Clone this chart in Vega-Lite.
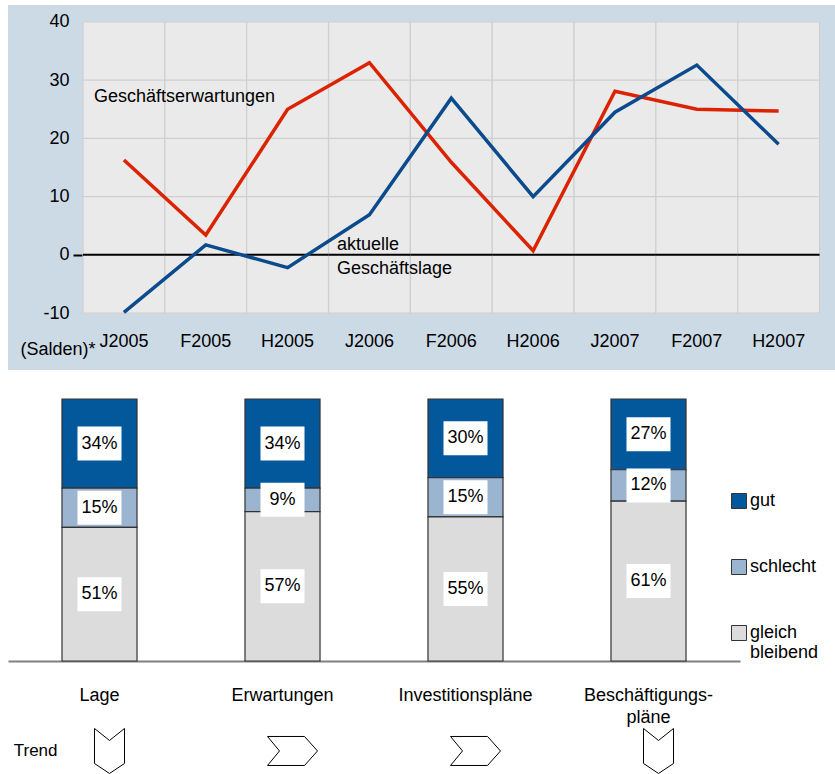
{
  "$schema": "https://vega.github.io/schema/vega-lite/v6.json",
  "padding": {"left": 8, "top": 5, "right": 0, "bottom": 0},
  "background": "white",
  "config": {
    "font": "Liberation Sans",
    "view": {"stroke": null},
    "axis": {"labelColor": "#000000", "labelFontSize": 18, "titleColor": "#000000"},
    "legend": {"labelColor": "#000000"}
  },
  "datasets": {
    "lines": [
      {"period": "J2005", "series": "Geschäftserwartungen", "value": 16.3},
      {"period": "F2005", "series": "Geschäftserwartungen", "value": 3.4},
      {"period": "H2005", "series": "Geschäftserwartungen", "value": 25.0},
      {"period": "J2006", "series": "Geschäftserwartungen", "value": 33.0},
      {"period": "F2006", "series": "Geschäftserwartungen", "value": 15.9},
      {"period": "H2006", "series": "Geschäftserwartungen", "value": 0.7},
      {"period": "J2007", "series": "Geschäftserwartungen", "value": 28.1},
      {"period": "F2007", "series": "Geschäftserwartungen", "value": 25.0},
      {"period": "H2007", "series": "Geschäftserwartungen", "value": 24.7},
      {"period": "J2005", "series": "aktuelle Geschäftslage", "value": -9.9},
      {"period": "F2005", "series": "aktuelle Geschäftslage", "value": 1.7},
      {"period": "H2005", "series": "aktuelle Geschäftslage", "value": -2.2},
      {"period": "J2006", "series": "aktuelle Geschäftslage", "value": 6.9},
      {"period": "F2006", "series": "aktuelle Geschäftslage", "value": 26.9},
      {"period": "H2006", "series": "aktuelle Geschäftslage", "value": 10.0},
      {"period": "J2007", "series": "aktuelle Geschäftslage", "value": 24.5},
      {"period": "F2007", "series": "aktuelle Geschäftslage", "value": 32.6},
      {"period": "H2007", "series": "aktuelle Geschäftslage", "value": 19.0}
    ],
    "bars": [
      {"cat": "Lage", "k": "gut", "pct": 34},
      {"cat": "Lage", "k": "schlecht", "pct": 15},
      {"cat": "Lage", "k": "gleich bleibend", "pct": 51},
      {"cat": "Erwartungen", "k": "gut", "pct": 34},
      {"cat": "Erwartungen", "k": "schlecht", "pct": 9},
      {"cat": "Erwartungen", "k": "gleich bleibend", "pct": 57},
      {"cat": "Investitionspläne", "k": "gut", "pct": 30},
      {"cat": "Investitionspläne", "k": "schlecht", "pct": 15},
      {"cat": "Investitionspläne", "k": "gleich bleibend", "pct": 55},
      {"cat": "Beschäftigungspläne", "k": "gut", "pct": 27},
      {"cat": "Beschäftigungspläne", "k": "schlecht", "pct": 12},
      {"cat": "Beschäftigungspläne", "k": "gleich bleibend", "pct": 61}
    ],
    "trend": [
      {"cat": "Lage", "trend": "fallend"},
      {"cat": "Erwartungen", "trend": "gleichbleibend"},
      {"cat": "Investitionspläne", "trend": "gleichbleibend"},
      {"cat": "Beschäftigungspläne", "trend": "fallend"}
    ]
  },
  "bounds": "flush",
  "spacing": 29,
  "resolve": {"scale": {"color": "independent"}, "legend": {"color": "independent"}},
  "vconcat": [
    {
      "width": 827,
      "height": 365,
      "view": {"fill": "#CCDAE6", "stroke": null},
      "data": {"name": "lines"},
      "encoding": {
        "x": {
          "field": "period",
          "type": "nominal",
          "sort": ["J2005", "F2005", "H2005", "J2006", "F2006", "H2006", "J2007", "F2007", "H2007"],
          "scale": {"type": "band", "paddingInner": 0, "paddingOuter": 0.5526, "align": 0.8293},
          "axis": {
            "orient": "bottom", "offset": -29, "domain": false, "ticks": false, "grid": false,
            "labelPadding": 0, "labelBaseline": "middle", "labelAngle": 0, "labelFontSize": 18,
            "title": "(Salden)*", "titleX": 12, "titleY": 8, "titleAlign": "left",
            "titleBaseline": "middle", "titleFontWeight": "normal", "titleFontSize": 18
          }
        }
      },
      "layer": [
        {
          "transform": [{"filter": "datum.series === 'aktuelle Geschäftslage'"}],
          "mark": {"type": "bar", "fill": "#EAEAEA", "stroke": "#CFCFCF", "strokeWidth": 1.2},
          "encoding": {
            "y": {
              "datum": 40, "type": "quantitative",
              "scale": {"domain": [-19.79, 42.92], "nice": false, "zero": false},
              "axis": {
                "orient": "left", "offset": -75, "values": [-10, 0, 10, 20, 30, 40],
                "grid": false, "domain": false, "ticks": true, "tickSize": 10, "tickWidth": 2,
                "tickColor": {"condition": {"test": "datum.value === 0", "value": "#000000"}, "value": "transparent"},
                "labelPadding": 4, "labelFontSize": 18, "labelExpr": "'' + datum.value", "title": null
              }
            },
            "y2": {"datum": -10}
          }
        },
        {
          "transform": [{"filter": "datum.series === 'aktuelle Geschäftslage'"}],
          "mark": {"type": "tick", "color": "#CFCFCF", "size": 81.84, "thickness": 1.2, "orient": "horizontal", "opacity": 1},
          "encoding": {"y": {"datum": 10, "type": "quantitative", "title": null}}
        },
        {
          "transform": [{"filter": "datum.series === 'aktuelle Geschäftslage'"}],
          "mark": {"type": "tick", "color": "#CFCFCF", "size": 81.84, "thickness": 1.2, "orient": "horizontal", "opacity": 1},
          "encoding": {"y": {"datum": 20, "type": "quantitative", "title": null}}
        },
        {
          "transform": [{"filter": "datum.series === 'aktuelle Geschäftslage'"}],
          "mark": {"type": "tick", "color": "#CFCFCF", "size": 81.84, "thickness": 1.2, "orient": "horizontal", "opacity": 1},
          "encoding": {"y": {"datum": 30, "type": "quantitative", "title": null}}
        },
        {
          "transform": [{"filter": "datum.series === 'aktuelle Geschäftslage'"}],
          "mark": {"type": "tick", "color": "#000000", "size": 81.84, "thickness": 2, "orient": "horizontal", "opacity": 1},
          "encoding": {"y": {"datum": 0, "type": "quantitative", "title": null}}
        },
        {
          "mark": {"type": "line", "strokeWidth": 3.5},
          "encoding": {
            "y": {"field": "value", "type": "quantitative", "title": null},
            "color": {
              "field": "series", "type": "nominal",
              "scale": {"domain": ["aktuelle Geschäftslage", "Geschäftserwartungen"], "range": ["#0B4A8C", "#DC2300"]},
              "legend": null
            }
          }
        },
        {
          "data": {"values": [{"t": "Geschäftserwartungen"}]},
          "mark": {"type": "text", "align": "left", "baseline": "alphabetic", "fontSize": 18, "color": "#000000", "xOffset": -30},
          "encoding": {
            "x": {"datum": "J2005", "type": "nominal"},
            "y": {"datum": 26.3, "type": "quantitative"},
            "text": {"field": "t"}
          }
        },
        {
          "data": {"values": [{"t": "aktuelle\nGeschäftslage"}]},
          "mark": {"type": "text", "align": "left", "baseline": "alphabetic", "fontSize": 18, "color": "#000000", "xOffset": -32.5, "lineBreak": "\n", "lineHeight": 24},
          "encoding": {
            "x": {"datum": "J2006", "type": "nominal"},
            "y": {"datum": 0.75, "type": "quantitative"},
            "text": {"field": "t"}
          }
        }
      ]
    },
    {
      "width": 732,
      "height": 262,
      "data": {"name": "bars"},
      "transform": [
        {"calculate": "indexof(['gleich bleibend', 'schlecht', 'gut'], datum.k)", "as": "o"},
        {"stack": "pct", "groupby": ["cat"], "sort": [{"field": "o", "order": "ascending"}], "as": ["y0", "y1"]},
        {"calculate": "(datum.y0 + datum.y1) / 2", "as": "mid"},
        {"calculate": "datum.pct + '%'", "as": "lab"}
      ],
      "encoding": {
        "x": {
          "field": "cat", "type": "nominal",
          "sort": ["Lage", "Erwartungen", "Investitionspläne", "Beschäftigungspläne"],
          "scale": {"type": "band", "paddingInner": 0.59, "paddingOuter": 0.295},
          "axis": {
            "orient": "bottom", "domain": true, "domainColor": "#808080", "domainWidth": 2,
            "ticks": false, "grid": false, "labelAngle": 0, "labelPadding": 25,
            "labelBaseline": "top", "labelFontSize": 18, "labelLineHeight": 22,
            "labelExpr": "datum.label == 'Beschäftigungspläne' ? ['Beschäftigungs-', 'pläne'] : datum.label",
            "title": null
          }
        }
      },
      "layer": [
        {
          "mark": {"type": "bar", "stroke": "#333333", "strokeWidth": 1.2},
          "encoding": {
            "y": {"field": "y0", "type": "quantitative", "scale": {"domain": [0, 100], "nice": false}, "axis": null},
            "y2": {"field": "y1"},
            "color": {
              "field": "k", "type": "nominal",
              "scale": {"domain": ["gut", "schlecht", "gleich bleibend"], "range": ["#02589B", "#9BB5D0", "#DCDCDC"]},
              "legend": {
                "orient": "none", "legendX": 722, "legendY": 93, "direction": "vertical", "title": null,
                "symbolType": "square", "symbolSize": 225, "symbolStrokeColor": "#333333", "symbolStrokeWidth": 1,
                "labelFontSize": 18, "labelOffset": 2, "rowPadding": 46, "labelLimit": 200,
                "labelExpr": "datum.label == 'gleich bleibend' ? ['gleich', 'bleibend'] : datum.label"
              }
            }
          }
        },
        {
          "mark": {"type": "tick", "color": "#FFFFFF", "size": 44, "thickness": 34, "orient": "horizontal", "opacity": 1},
          "encoding": {"y": {"field": "mid", "type": "quantitative"}}
        },
        {
          "mark": {"type": "text", "fontSize": 18, "color": "#000000", "baseline": "middle"},
          "encoding": {"y": {"field": "mid", "type": "quantitative"}, "text": {"field": "lab"}}
        }
      ]
    },
    {
      "width": 732,
      "height": 84,
      "data": {"name": "trend"},
      "mark": {"type": "point", "filled": false, "color": "#000000", "strokeWidth": 1, "size": 2500, "xOffset": 10, "opacity": 1},
      "encoding": {
        "x": {
          "field": "cat", "type": "nominal",
          "sort": ["Lage", "Erwartungen", "Investitionspläne", "Beschäftigungspläne"],
          "scale": {"type": "band", "paddingInner": 0.59, "paddingOuter": 0.295},
          "axis": null
        },
        "y": {
          "datum": "Trend", "type": "nominal",
          "scale": {"type": "point", "padding": 0.5, "align": 0.726},
          "axis": {"orient": "left", "offset": -49, "domain": false, "ticks": false, "labelPadding": 0, "labelFontSize": 17, "title": null}
        },
        "shape": {
          "field": "trend", "type": "nominal",
          "scale": {
            "domain": ["fallend", "gleichbleibend"],
            "range": ["M-0.6,-0.9L0,-0.42L0.6,-0.9L0.6,0.5L0,0.9L-0.6,0.5Z", "M-1,-0.58L0.48,-0.58L1,0L0.48,0.58L-1,0.58L-0.52,0Z"]
          },
          "legend": null
        }
      }
    }
  ]
}
